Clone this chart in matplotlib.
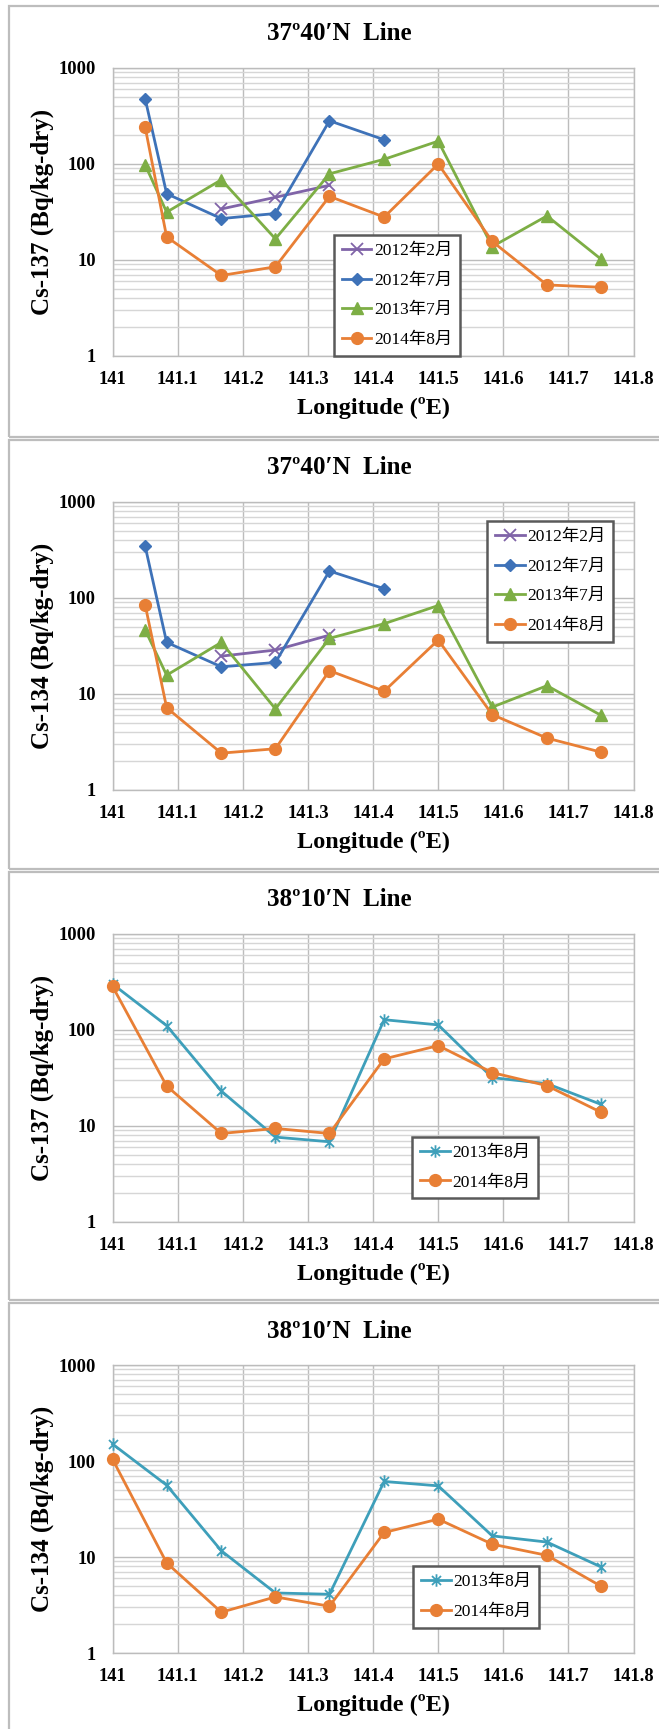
import numpy as np
import matplotlib
matplotlib.use("Agg")
import matplotlib.pyplot as plt
from matplotlib.patches import Rectangle
from matplotlib.path import Path
from matplotlib.ticker import LogLocator, FixedLocator, FixedFormatter, NullFormatter

nan = np.nan

# Station longitudes (deg E)
lon_3740 = [141.05, 141.083, 141.167, 141.25, 141.333, 141.417, 141.5, 141.583, 141.667, 141.75]
lon_3810 = [141.0, 141.083, 141.167, 141.25, 141.333, 141.417, 141.5, 141.583, 141.667, 141.75]

# 37°40'N line, Cs-137 (Bq/kg-dry)
cs137_3740_2012feb = [nan, nan, 34, 45, 60, nan, nan, nan, nan, nan]
cs137_3740_2012jul = [478, 49, 27, 30.5, 282, 179, nan, nan, nan, nan]
cs137_3740_2013jul = [98, 31.5, 68.5, 16.6, 79, 112, 173, 13.8, 28.8, 10.2]
cs137_3740_2014aug = [242, 17.4, 6.9, 8.5, 46, 28, 100, 15.6, 5.5, 5.2]

# 37°40'N line, Cs-134 (Bq/kg-dry)
cs134_3740_2012feb = [nan, nan, 24.8, 28.7, 41, nan, nan, nan, nan, nan]
cs134_3740_2012jul = [346, 34.5, 19.2, 21.3, 191, 125, nan, nan, nan, nan]
cs134_3740_2013jul = [46.5, 15.7, 34.5, 7.0, 38, 54, 83.5, 7.3, 12.2, 6.0]
cs134_3740_2014aug = [85, 7.2, 2.42, 2.69, 17.5, 10.7, 36.5, 6.1, 3.47, 2.48]

# 38°10'N line, Cs-137 (Bq/kg-dry)
cs137_3810_2013aug = [301, 111, 23.1, 7.66, 6.85, 128, 113, 31.9, 27.6, 16.8]
cs137_3810_2014aug = [284, 26.1, 8.36, 9.43, 8.36, 50, 68.8, 36, 26.3, 13.9]

# 38°10'N line, Cs-134 (Bq/kg-dry)
cs134_3810_2013aug = [150, 56, 11.6, 4.22, 4.09, 61.2, 55.1, 16.6, 14.3, 7.88]
cs134_3810_2014aug = [104, 8.68, 2.66, 3.84, 3.07, 18.0, 24.8, 13.6, 10.4, 4.96]

x_ticks = [141.0, 141.1, 141.2, 141.3, 141.4, 141.5, 141.6, 141.7, 141.8]
x_tick_labels = ["141", "141.1", "141.2", "141.3", "141.4", "141.5", "141.6", "141.7", "141.8"]
y_ticks = [1, 10, 100, 1000]
y_tick_labels = ["1", "10", "100", "1000"]

titles = ["37º40′N  Line", "37º40′N  Line", "38º10′N  Line", "38º10′N  Line"]
ylabels = ["Cs-137 (Bq/kg-dry)", "Cs-134 (Bq/kg-dry)", "Cs-137 (Bq/kg-dry)", "Cs-134 (Bq/kg-dry)"]
xlabel = "Longitude (ºE)"

# asterisk marker: vertical bar plus an X
_ast = Path([(0, -1), (0, 1), (-0.72, -0.72), (0.72, 0.72), (-0.72, 0.72), (0.72, -0.72)],
            [Path.MOVETO, Path.LINETO, Path.MOVETO, Path.LINETO, Path.MOVETO, Path.LINETO])

styles = {
    "2012年2月": dict(color="#8064A8", marker="x", ms=8, mew=1.3),
    "2012年7月": dict(color="#3E72B8", marker="D", ms=6.5),
    "2013年7月": dict(color="#7DAE45", marker="^", ms=8.5),
    "2014年8月": dict(color="#E87F35", marker="o", ms=8.5),
    "2013年8月": dict(color="#3E9FBA", marker=_ast, ms=9, mew=1.3, mfc="none"),
}

panels = [
    (lon_3740, [("2012年2月", cs137_3740_2012feb), ("2012年7月", cs137_3740_2012jul),
                ("2013年7月", cs137_3740_2013jul), ("2014年8月", cs137_3740_2014aug)]),
    (lon_3740, [("2012年2月", cs134_3740_2012feb), ("2012年7月", cs134_3740_2012jul),
                ("2013年7月", cs134_3740_2013jul), ("2014年8月", cs134_3740_2014aug)]),
    (lon_3810, [("2013年8月", cs137_3810_2013aug), ("2014年8月", cs137_3810_2014aug)]),
    (lon_3810, [("2013年8月", cs134_3810_2013aug), ("2014年8月", cs134_3810_2014aug)]),
]

# layout (pixels)
W, H = 659, 1729
panel_tops = [6, 440, 872, 1303]
panel_bottoms = [437, 869, 1300, 1740]
ax_left, ax_right = 112.6, 633.6
ax_top_off, ax_h = 62, 288
legend_anchor = [(0.425, 0.42), (0.719, 0.934), (0.575, 0.296), (0.577, 0.301)]
title_x = 339.5

serif = ["Liberation Serif", "DejaVu Serif"]
legend_fam = ["Liberation Serif", "Noto Sans CJK JP", "DejaVu Serif"]

fig = plt.figure(figsize=(W / 100, H / 100), dpi=100)
fig.patch.set_facecolor("white")

for i, (lon, series) in enumerate(panels):
    pt, pb = panel_tops[i], panel_bottoms[i]
    fig.add_artist(Rectangle((9 / W, 1 - pb / H), 1.0, (pb - pt) / H,
                             transform=fig.transFigure, fill=False,
                             ec="#BDBDBD", lw=1.6))
    top = pt + ax_top_off
    ax = fig.add_axes([ax_left / W, 1 - (top + ax_h) / H, (ax_right - ax_left) / W, ax_h / H])
    ax.set_yscale("log")
    ax.set_xlim(141.0, 141.8)
    ax.set_ylim(1, 1000)

    for name, vals in series:
        st = dict(styles[name])
        c = st.pop("color")
        mk = st.pop("marker")
        ms = st.pop("ms")
        ax.plot(lon, vals, color=c, lw=2.0, marker=mk, markersize=ms,
                markerfacecolor=st.pop("mfc", c), markeredgecolor=c,
                markeredgewidth=st.pop("mew", 1.0), label=name, clip_on=False, zorder=3)

    ax.xaxis.set_major_locator(FixedLocator(x_ticks))
    ax.xaxis.set_major_formatter(FixedFormatter(x_tick_labels))
    ax.yaxis.set_major_locator(FixedLocator(y_ticks))
    ax.yaxis.set_major_formatter(FixedFormatter(y_tick_labels))
    ax.yaxis.set_minor_locator(LogLocator(base=10, subs=np.arange(2, 10)))
    ax.yaxis.set_minor_formatter(NullFormatter())

    ax.grid(True, which="major", axis="both", color="#BCBCBC", lw=1.0, zorder=0)
    ax.grid(True, which="minor", axis="y", color="#D6D6D6", lw=1.0, zorder=0)
    ax.set_axisbelow(True)
    for sp in ax.spines.values():
        sp.set_color("#BCBCBC")
        sp.set_linewidth(1.0)

    ax.tick_params(which="both", length=0)
    ax.tick_params(axis="x", pad=11)
    ax.tick_params(axis="y", pad=12)
    for lab in ax.get_xticklabels() + ax.get_yticklabels():
        lab.set_fontfamily(serif)
        lab.set_fontweight("bold")
        lab.set_fontsize(13.3)

    ax.set_ylabel(ylabels[i], family=serif, fontweight="bold", fontsize=18)
    ax.yaxis.label.set_va("center")
    ax.yaxis.set_label_coords((42 - ax_left) / (ax_right - ax_left), 0.5)
    ax.set_xlabel(xlabel, family=serif, fontweight="bold", fontsize=17.5)
    ax.xaxis.label.set_va("center")
    ax.xaxis.set_label_coords(0.501, -52 / ax_h)

    fig.text(title_x / W, 1 - (pt + 28) / H, titles[i], ha="center", va="center",
             family=serif, fontweight="bold", fontsize=18)

    leg = ax.legend(loc="upper left", bbox_to_anchor=legend_anchor[i],
                    prop=dict(family=legend_fam, size=12.5),
                    frameon=True, fancybox=False, framealpha=1,
                    edgecolor="#5A5A5A", handlelength=1.7, handletextpad=0.15,
                    labelspacing=0.78, borderpad=0.45, borderaxespad=0)
    leg.get_frame().set_linewidth(1.8)
    leg.set_zorder(5)

fig.savefig("out.png", dpi=100, facecolor="white")
